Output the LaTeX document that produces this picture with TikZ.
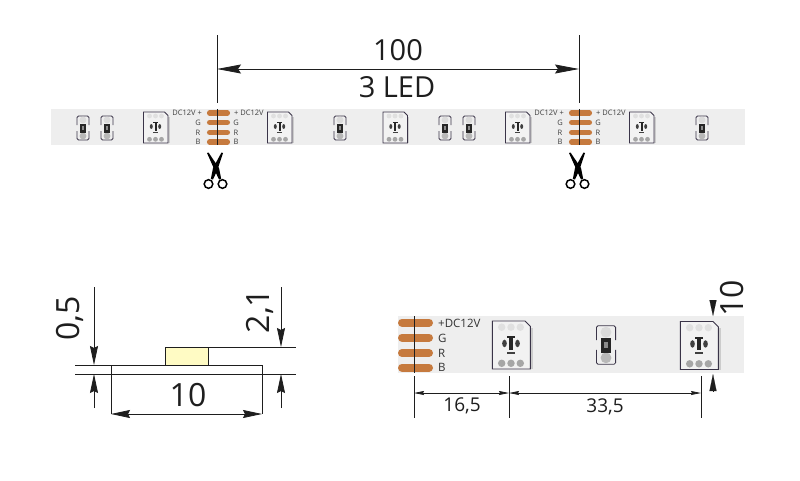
\documentclass[tikz,border=0pt]{standalone}
\usepackage{fontspec}
\setmainfont{Open Sans}
\usetikzlibrary{arrows.meta}
\definecolor{stripc}{HTML}{EEEEEE}
\definecolor{padc}{HTML}{C67A3E}
\definecolor{inkc}{HTML}{1E1E1E}
\definecolor{ledl}{HTML}{3A3448}
\definecolor{yel}{HTML}{FFFBC4}
\tikzset{
  dimline/.style={draw=inkc,line width=0.8pt},
  bigtip/.tip={Stealth[length=24pt,width=9pt,inset=3pt]},
  medtip/.tip={Stealth[length=19pt,width=8pt,inset=2pt]},
  smalltip/.tip={Stealth[length=10pt,width=4pt,inset=1pt]},
  bothbig/.style={dimline,bigtip-bigtip},
  medarrow/.style={dimline,-medtip},
  bothmed/.style={dimline,medtip-medtip},
  bothsmall/.style={dimline,smalltip-smalltip},
  bigtxt/.style={inner sep=0pt,font=\fontsize{29}{32}\selectfont,text=inkc},
  sidetxt/.style={inner sep=0pt,font=\fontsize{32}{34}\selectfont,text=inkc},
  midtxt/.style={inner sep=0pt,font=\fontsize{19}{22}\selectfont,text=inkc},
  tinytxt/.style={inner sep=0pt,font=\fontsize{7.5}{8}\selectfont,text=black!75},
  pintxt/.style={inner sep=0pt,font=\fontsize{11.5}{12}\selectfont,text=black!80},
  padline/.style={draw=padc,line cap=round},
  led/.pic={
    \fill[black!20] (12.5,-11) rectangle (14,15.5);
    \draw[draw=ledl,line width=0.9pt,fill=black!5] (-12,-15.5) -- (9,-15.5) -- (12.5,-12) -- (12.5,15.5) -- (-12,15.5) -- cycle;
    \foreach \dx in {-6,0,6}{
      \fill[black!12] (\dx,-11.5) circle (2.4);
      \fill[black!35] (\dx,11.8) circle (2.4);
    }
    \fill[black!85] (-1,-5.5) rectangle (1,3);
    \fill[black!85] (-2.5,-5.5) rectangle (2.5,-4.4);
    \fill[black!75] (-4.2,-1) ellipse (1.5 and 2.4);
    \fill[black!75] (4.2,-1) ellipse (1.5 and 2.4);
    \fill[black!75] (-2.5,4.2) rectangle (2.5,5.8);
  },
  resistor/.pic={
    \draw[draw=ledl,line width=0.8pt,rounded corners=1.5pt] (-6,-3) -- (-6,-12) -- (6,-12) -- (6,-3);
    \draw[draw=ledl,line width=0.8pt,rounded corners=1.5pt] (-6,3) -- (-6,12) -- (6,12) -- (6,3);
    \fill[black!14] (0,-8) circle (3.4);
    \fill[black!28] (0,8) circle (3.4);
    \fill[black!85] (-3,-4.5) rectangle (3,5);
    \fill[black!45] (-1.2,-2) rectangle (1.2,2);
  },
  shears/.pic={
    \fill[black] (-9,-17) -- (-7.5,-17.5) -- (3,-2) -- (5.2,9) -- (3,9.5) -- (-1,1) -- cycle;
    \fill[black] (7,-17) -- (5.5,-17.5) -- (-3,-2) -- (-5.2,9) -- (-3,9.5) -- (1,1) -- cycle;
    \draw[black,line width=1.5pt,fill=white] (-7.5,14) circle (4.3);
    \draw[black,line width=1.5pt,fill=white] (6.5,14) circle (4.3);
  }
}
\begin{document}
\begin{tikzpicture}[x=1pt,y=-1pt]
\useasboundingbox (0,0) rectangle (800,480);
\fill[white] (0,0) rectangle (800,480);
% top strip
\fill[stripc] (51,109) rectangle (745,145);
\foreach \cx in {83,107,340,445,469,702} \pic at (\cx,128) {resistor};
\foreach \cx in {155.5,279.5,395,517.5,641.5} \pic at (\cx,127.5) {led};
\foreach \px in {207,569}{
  \foreach \py in {113,122.5,132.5,142}
    \draw[padline,line width=5.5pt] (\px+2.7,\py) -- (\px+20.3,\py);
  \node[tinytxt,anchor=east] at (\px-5,113) {DC12V +};
  \node[tinytxt,anchor=west] at (\px+27,113) {+ DC12V};
  \foreach \py/\pl in {122.5/G,132.5/R,142/B}{
    \node[tinytxt] at (\px-9,\py) {\pl};
    \node[tinytxt] at (\px+29,\py) {\pl};
  }
}
% top dimension
\coordinate (ta) at (217,35); \coordinate (tb) at (217,103);
\coordinate (tc) at (579,35); \coordinate (td) at (579,103);
\coordinate (te) at (217,109); \coordinate (tf) at (217,145);
\coordinate (tg) at (579,109); \coordinate (th) at (579,145);
\coordinate (da) at (217,69); \coordinate (db) at (579,69);
\draw[dimline] (ta) -- (tb);
\draw[dimline] (tc) -- (td);
\draw[dimline,line width=0.6pt] (te) -- (tf);
\draw[dimline,line width=0.6pt] (tg) -- (th);
\draw[bothbig] (da) -- (db);
\node[bigtxt] (lab100) at (398,50.5) {100};
\node[bigtxt] (lab3led) at (397,87) {3 LED};
\pic at (216,170) {shears};
\pic at (578,170) {shears};
% side view
\fill[yel] (165,347) rectangle (208,365);
\draw[dimline,line width=1pt] (165,365) -- (165,347) -- (208,347) -- (208,365);
\coordinate (s1) at (75,365); \coordinate (s2) at (262,365);
\coordinate (s3) at (75,374); \coordinate (s4) at (296,374);
\coordinate (s5) at (208,347); \coordinate (s6) at (296,347);
\coordinate (v1) at (111,365); \coordinate (v2) at (111,414);
\coordinate (v3) at (262,365); \coordinate (v4) at (262,414);
\draw[dimline,line width=1pt] (s1) -- (s2);
\draw[dimline,line width=1pt] (s3) -- (s4);
\draw[dimline] (s5) -- (s6);
\draw[dimline,line width=1pt] (v1) -- (v2);
\draw[dimline,line width=1pt] (v3) -- (v4);
\draw[bothmed] (v2) -- (v4);
\node[sidetxt] (lab10a) at (188,395) {10};
\coordinate (w1) at (94,287); \coordinate (w2) at (94,365);
\coordinate (w3) at (94,408); \coordinate (w4) at (94,374);
\draw[medarrow] (w1) -- (w2);
\draw[medarrow] (w3) -- (w4);
\coordinate (x1) at (281,287); \coordinate (x2) at (281,347);
\coordinate (x3) at (281,408); \coordinate (x4) at (281,374);
\draw[medarrow] (x1) -- (x2);
\draw[medarrow] (x3) -- (x4);
\node[sidetxt,rotate=90] (lab05) at (70,318.5) {0,5};
\node[sidetxt,rotate=90] (lab21) at (260,311) {2,1};
% bottom strip
\fill[stripc] (398,316) rectangle (744,373);
\foreach \py in {322.5,337.5,353,367.5}
  \draw[padline,line width=8pt] (402,\py) -- (429,\py);
\node[pintxt,anchor=west] (lplus) at (438,323) {+DC12V};
\node[pintxt,anchor=west] (lg) at (438,338) {G};
\node[pintxt,anchor=west] (lr) at (438,353) {R};
\node[pintxt,anchor=west] (lb) at (438,367) {B};
\pic[scale=1.55] at (511,345) {led};
\pic[scale=1.55] at (699,345.5) {led};
\pic[scale=1.6] at (606,345) {resistor};
\coordinate (b1) at (414,316); \coordinate (b2) at (414,373);
\coordinate (b3) at (414,376); \coordinate (b4) at (414,418);
\coordinate (b5) at (509,376); \coordinate (b6) at (509,418);
\coordinate (b7) at (701,376); \coordinate (b8) at (701,418);
\coordinate (e1) at (414,393); \coordinate (e2) at (509,393);
\coordinate (e3) at (701,393);
\draw[dimline] (b1) -- (b2);
\draw[dimline] (b3) -- (b4);
\draw[dimline] (b5) -- (b6);
\draw[dimline] (b7) -- (b8);
\draw[bothsmall] (e1) -- (e2);
\draw[bothsmall] (e2) -- (e3);
\node[midtxt] (l165) at (462,406) {16,5};
\node[midtxt] (l335) at (605,407) {33,5};
\coordinate (r1) at (713,300); \coordinate (r2) at (713,316);
\coordinate (r3) at (713,391); \coordinate (r4) at (713,374);
\draw[draw=inkc,line width=0.1pt,-{Stealth[length=16pt,width=7pt,inset=0pt]}] (r1) -- (r2);
\draw[draw=inkc,line width=0.1pt,-{Stealth[length=17pt,width=7pt,inset=0pt]}] (r3) -- (r4);
\node[sidetxt,rotate=90] (lab10b) at (732,298) {10};
\end{tikzpicture}
\end{document}
